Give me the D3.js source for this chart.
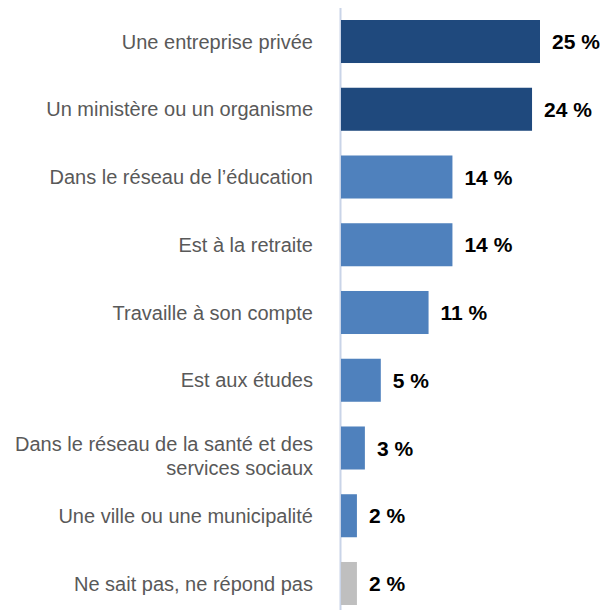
<!DOCTYPE html>
<html>
<head>
<meta charset="utf-8">
<script src="https://cdn.jsdelivr.net/npm/d3@7"></script>
<style>
  html, body { margin: 0; padding: 0; background: #fff; }
  svg { display: block; }
</style>
</head>
<body>
<div id="chart"></div>
<script>
// Secteur d'emploi des répondants (%)
const categories = [
  ["Une entreprise privée"],
  ["Un ministère ou un organisme"],
  ["Dans le réseau de l’éducation"],
  ["Est à la retraite"],
  ["Travaille à son compte"],
  ["Est aux études"],
  ["Dans le réseau de la santé et des", "services sociaux"],
  ["Une ville ou une municipalité"],
  ["Ne sait pas, ne répond pas"]
];
const values = [25, 24, 14, 14, 11, 5, 3, 2, 2];
const groups = ["top", "top", "mid", "mid", "mid", "mid", "mid", "mid", "none"];

const colors = { top: "#1f497d", mid: "#4f81bd", none: "#bfbfbf" };

const width = 606, height = 610;
const axisX = 341;

const svg = d3.select("#chart").append("svg")
  .attr("width", width)
  .attr("height", height);

const x = d3.scaleLinear().domain([0, 25]).range([axisX, 540]);
const y = d3.scaleBand()
  .domain(d3.range(values.length))
  .range([20, 605])
  .paddingInner(0.365)
  .paddingOuter(0);

// vertical baseline
svg.append("line")
  .attr("x1", axisX - 0.5).attr("x2", axisX - 0.5)
  .attr("y1", 8).attr("y2", height)
  .attr("stroke", "#c9d4e8")
  .attr("stroke-width", 2);

// bars
svg.append("g").selectAll("rect")
  .data(values)
  .join("rect")
  .attr("x", x(0))
  .attr("y", (d, i) => y(i))
  .attr("width", d => x(d) - x(0))
  .attr("height", y.bandwidth())
  .attr("fill", (d, i) => colors[groups[i]]);

// value labels
svg.append("g").selectAll("text")
  .data(values)
  .join("text")
  .attr("x", d => x(d) + 12)
  .attr("y", (d, i) => y(i) + y.bandwidth() / 2)
  .attr("dy", "0.36em")
  .attr("font-family", "Liberation Sans, Arial, sans-serif")
  .attr("font-weight", "bold")
  .attr("font-size", 21)
  .attr("fill", "#000")
  .text(d => d + " %");

// category labels (wrapped labels sit slightly low, first line near the bar centre)
const lineH = 24;
const cat = svg.append("g").selectAll("text")
  .data(categories)
  .join("text")
  .attr("text-anchor", "end")
  .attr("font-family", "Liberation Sans, Arial, sans-serif")
  .attr("font-size", 20)
  .attr("fill", "#595959")
  .attr("y", (d, i) => y(i) + y.bandwidth() / 2 - (d.length - 1) * 4)
  .attr("dy", "0.36em");

cat.selectAll("tspan")
  .data(d => d)
  .join("tspan")
  .attr("x", 313)
  .attr("dy", (d, j) => j === 0 ? null : lineH)
  .text(d => d);
</script>
</body>
</html>
